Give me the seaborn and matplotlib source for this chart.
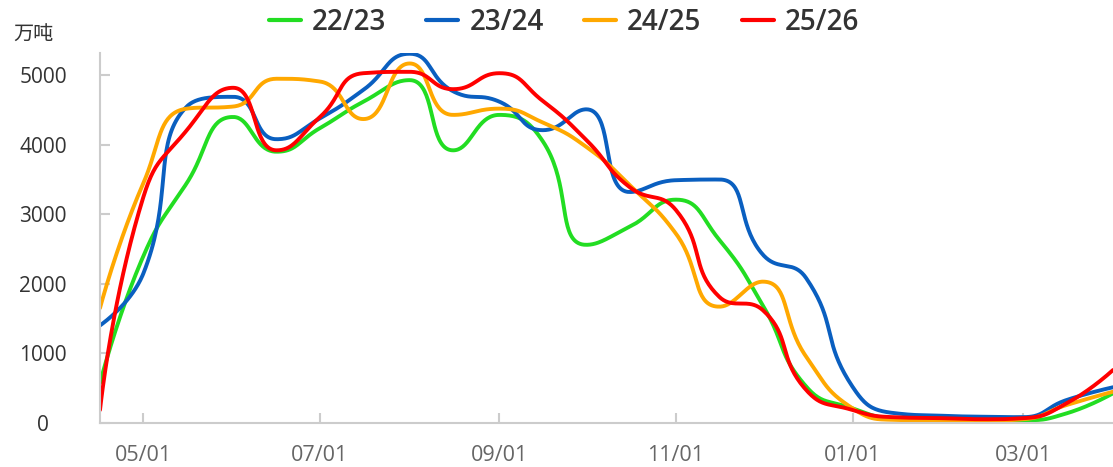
import numpy as np
import pandas as pd
import matplotlib
matplotlib.use("Agg")
import matplotlib.pyplot as plt
import matplotlib.dates as mdates
import seaborn as sns

# half-month periods of the season (Apr -> next Apr)
periods = ["04/16", "05/01", "05/16", "06/01", "06/16", "07/01", "07/16", "08/01",
           "08/16", "09/01", "09/16", "10/01", "10/16", "11/01", "11/16", "12/01",
           "12/16", "01/01", "01/16", "02/01", "02/16", "03/01", "03/16", "04/01"]

seasons = ["22/23", "23/24", "24/25", "25/26"]

s2223 = [570, 2400, 3450, 4400, 3900, 4240, 4620, 4930, 3920, 4430, 4050, 2560,
         2820, 3210, 2630, 1690, 520, 207, 63, 50, 40, 35, 135, 423]
s2324 = [1400, 2150, 4550, 4690, 4080, 4380, 4790, 5310, 4770, 4620, 4210, 4510,
         3320, 3490, 3500, 2420, 2080, 518, 135, 100, 85, 80, 327, 510]
s2425 = [1650, 3450, 4520, 4550, 4950, 4910, 4370, 5170, 4430, 4520, 4320, 3970,
         3420, 2720, 1670, 2030, 950, 207, 40, 30, 30, 50, 255, 446]
s2526 = [183, 3250, 4210, 4820, 3920, 4400, 5030, 5050, 4800, 5030, 4630, 4070,
         3390, 3060, 1810, 1620, 470, 183, 78, 65, 50, 65, 279, 758]

colors = ["#22dd22", "#0a5fc0", "#ffa800", "#ff0000"]
x_ticks = ["05/01", "07/01", "09/01", "11/01", "01/01", "03/01"]
y_ticks = [0, 1000, 2000, 3000, 4000, 5000]


def to_dates(labels, start_year=2025):
    out, year, prev = [], start_year, 0
    for s in labels:
        m, d = map(int, s.split("/"))
        if m < prev:
            year += 1
        prev = m
        out.append(pd.Timestamp(year, m, d))
    return out


def smooth_path(pts, smooth=0.5, steps=40):
    # bezier smoothing in screen space with clamped control points,
    # so a curve never goes past its neighbouring points
    n = len(pts)
    cps = []
    cp0 = pts[0].copy()
    for i in range(1, n):
        p, prev = pts[i], pts[i - 1]
        if i == n - 1:
            cp1 = p.copy()
            nxt_cp0 = p.copy()
        else:
            nxt = pts[i + 1]
            v = nxt - prev
            len_prev = np.hypot(*(p - prev))
            len_next = np.hypot(*(nxt - p))
            ratio = len_next / (len_next + len_prev)
            nxt_cp0 = p + v * smooth * ratio
            nxt_cp0 = np.minimum(nxt_cp0, np.maximum(nxt, p))
            nxt_cp0 = np.maximum(nxt_cp0, np.minimum(nxt, p))
            v = nxt_cp0 - p
            cp1 = p - v * len_prev / len_next
            cp1 = np.minimum(cp1, np.maximum(prev, p))
            cp1 = np.maximum(cp1, np.minimum(prev, p))
            v = p - cp1
            nxt_cp0 = p + v * len_next / len_prev
        cps.append((prev, cp0, cp1, p))
        cp0 = nxt_cp0
    t = np.linspace(0, 1, steps, endpoint=False)[:, None]
    out = []
    for a, b, c, d in cps:
        out.append((1 - t) ** 3 * a + 3 * (1 - t) ** 2 * t * b + 3 * (1 - t) * t ** 2 * c + t ** 3 * d)
    out.append(pts[-1:])
    return np.vstack(out)


xnum = mdates.date2num(to_dates(periods))

sns.set_theme(style="white")
plt.rcParams["font.family"] = ["Open Sans", "Noto Sans CJK SC", "DejaVu Sans"]

W, H = 1113, 467
fig = plt.figure(figsize=(W / 100, H / 100), dpi=100)
ax = fig.add_axes([100 / W, 1 - 422.7 / H, 1013 / W, (422.7 - 52.7) / H])
ax.set_xlim(xnum[0], xnum[-1])
ax.set_ylim(0, 5325)

frames = []
for name, vals in zip(seasons, [s2223, s2324, s2425, s2526]):
    screen = ax.transData.transform(np.column_stack([xnum, vals]))
    curve = ax.transData.inverted().transform(smooth_path(screen))
    frames.append(pd.DataFrame({"x": curve[:, 0], "y": curve[:, 1], "season": name}))
df = pd.concat(frames, ignore_index=True)

sns.lineplot(data=df, x="x", y="y", hue="season", palette=colors, sort=False,
             estimator=None, linewidth=2.8, ax=ax)

handles, labels = ax.get_legend_handles_labels()
ax.get_legend().remove()

ax.set_xlim(xnum[0], xnum[-1])
ax.set_ylim(0, 5325)
ax.set_xlabel("")
ax.set_ylabel("")

ax.set_xticks(mdates.date2num(to_dates(x_ticks)))
ax.xaxis.set_major_formatter(mdates.DateFormatter("%m/%d"))
ax.set_yticks(y_ticks)

for side in ["top", "right"]:
    ax.spines[side].set_visible(False)
for side in ["left", "bottom"]:
    ax.spines[side].set_color("#cccccc")
    ax.spines[side].set_linewidth(1.5)

ax.tick_params(axis="y", direction="in", length=7, width=1.5, color="#cccccc",
               pad=41, labelsize=15, labelcolor="#333333", left=True)
ax.tick_params(axis="x", direction="in", length=7.5, width=1.5, color="#cccccc",
               pad=16, labelsize=15.5, labelcolor="#666666", bottom=True)
plt.setp(ax.get_yticklabels(), ha="center")

fig.text(33 / W, 1 - 35 / H, "万吨", ha="center", va="center", fontsize=14.5,
         color="#333333", family=["Noto Sans CJK SC", "DejaVu Sans"])

leg = fig.legend(handles, labels, loc="center", bbox_to_anchor=(564 / W, 1 - 22 / H),
                 ncol=4, frameon=False, handlelength=1.15, handletextpad=0.4,
                 columnspacing=1.45,
                 prop={"family": "Open Sans", "size": 20, "weight": "semibold"})
for line in leg.get_lines():
    line.set_linewidth(3)
for txt in leg.get_texts():
    txt.set_color("#333333")

fig.savefig("out.png", dpi=100)
